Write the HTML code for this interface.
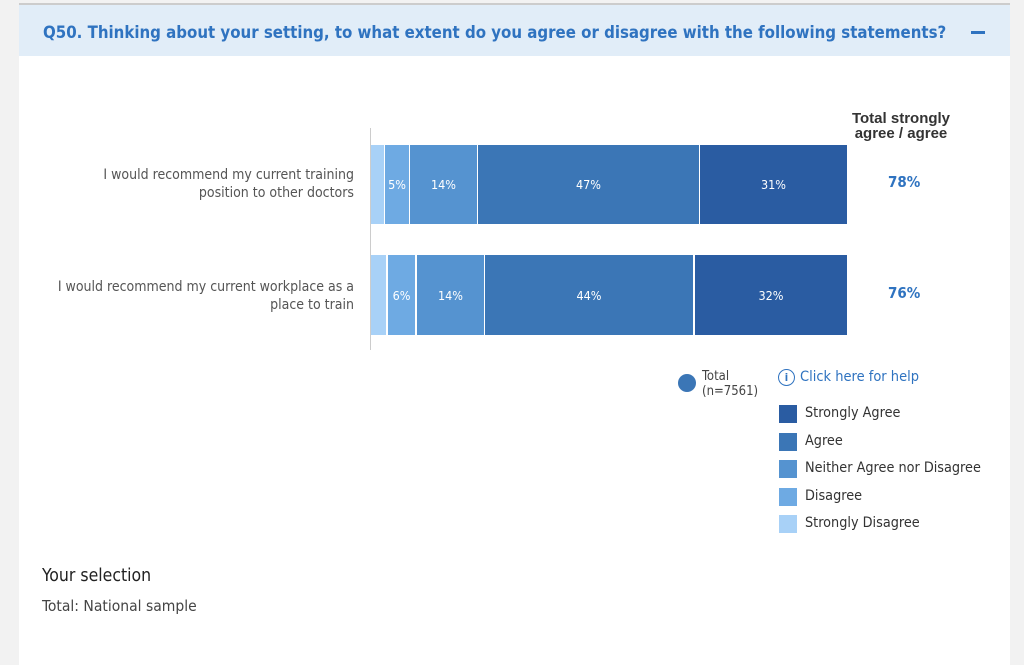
<!DOCTYPE html>
<html><head><meta charset="utf-8"><style>
body{margin:0;width:1024px;height:651px;background:#f2f2f2;font-family:"DejaVu Sans Condensed","Liberation Sans",sans-serif;position:relative;overflow:hidden}
.panel{position:absolute;left:19px;top:3px;width:991px;height:660px;background:#fff;border-top:2px solid #ccc}
.hdr{position:absolute;left:0;top:0;width:991px;height:51px;background:#e1edf8}
.hdr .t{position:absolute;left:24px;top:17px;font-size:16.7px;font-weight:bold;color:#2f73c0;font-family:"DejaVu Sans Condensed","Liberation Sans",sans-serif}
.hdr .m{position:absolute;left:952px;top:26px;width:14px;height:3px;background:#2f73c0}
.abs{position:absolute}
.seg{position:absolute;color:#fff;font-size:12.5px;display:flex;align-items:center;justify-content:center}
.lbl{position:absolute;right:670px;text-align:right;font-size:14px;color:#555;line-height:18px}
.lg{position:absolute;left:779px;width:18px;height:18px}
.lt{position:absolute;left:805px;font-size:14.3px;color:#333}
</style></head><body>
<div class="panel"><div class="hdr"><div class="t">Q50. Thinking about your setting, to what extent do you agree or disagree with the following statements?</div><div class="m"></div></div></div>
<div class="abs" style="left:370px;top:128px;width:1px;height:222px;background:#ccc"></div>
<div class="abs" style="left:821px;top:111px;width:160px;text-align:center;font-family:'Liberation Sans',sans-serif;font-weight:bold;font-size:15px;color:#333;line-height:15px">Total strongly<br>agree / agree</div>
<div class="lbl" style="top:166px">I would recommend my current training<br>position to other doctors</div>
<div class="lbl" style="top:278px">I would recommend my current workplace as a<br>place to train</div>
<div class="seg" style="left:371px;top:145px;width:13px;height:79px;background:#a8d1f7"></div>
<div class="seg" style="left:385px;top:145px;width:24px;height:79px;background:#6eaae3">5%</div>
<div class="seg" style="left:410px;top:145px;width:67px;height:79px;background:#5593d0">14%</div>
<div class="seg" style="left:478px;top:145px;width:221px;height:79px;background:#3b76b6">47%</div>
<div class="seg" style="left:700px;top:145px;width:147px;height:79px;background:#2a5ca2">31%</div>
<div class="seg" style="left:371px;top:255px;width:15px;height:80px;background:#a8d1f7"></div>
<div class="seg" style="left:388px;top:255px;width:27px;height:80px;background:#6eaae3">6%</div>
<div class="seg" style="left:417px;top:255px;width:67px;height:80px;background:#5593d0">14%</div>
<div class="seg" style="left:485px;top:255px;width:208px;height:80px;background:#3b76b6">44%</div>
<div class="seg" style="left:695px;top:255px;width:152px;height:80px;background:#2a5ca2">32%</div>
<div class="abs" style="left:888px;top:173px;font-size:15px;font-weight:bold;color:#2f73c0">78%</div>
<div class="abs" style="left:888px;top:284px;font-size:15px;font-weight:bold;color:#2f73c0">76%</div>
<div class="abs" style="left:678px;top:374px;width:18px;height:18px;border-radius:50%;background:#3b76b6"></div>
<div class="abs" style="left:702px;top:369px;font-size:13px;color:#444;line-height:15px">Total<br>(n=7561)</div>
<div class="abs" style="left:778px;top:369px;width:15px;height:15px;border:1.5px solid #2f73c0;border-radius:50%;color:#2f73c0;font-size:11px;text-align:center;line-height:15px;font-weight:bold">i</div>
<div class="abs" style="left:800px;top:369px;font-size:14.5px;color:#2f73c0">Click here for help</div>
<div class="lg" style="top:405px;background:#2a5ca2"></div><div class="lt" style="top:405px">Strongly Agree</div>
<div class="lg" style="top:433px;background:#3b76b6"></div><div class="lt" style="top:433px">Agree</div>
<div class="lg" style="top:460px;background:#5593d0"></div><div class="lt" style="top:460px">Neither Agree nor Disagree</div>
<div class="lg" style="top:488px;background:#6eaae3"></div><div class="lt" style="top:488px">Disagree</div>
<div class="lg" style="top:515px;background:#a8d1f7"></div><div class="lt" style="top:515px">Strongly Disagree</div>
<div class="abs" style="left:42px;top:566px;font-size:17.5px;color:#222">Your selection</div>
<div class="abs" style="left:42px;top:597px;font-size:15.5px;color:#444">Total: National sample</div>
</body></html>
